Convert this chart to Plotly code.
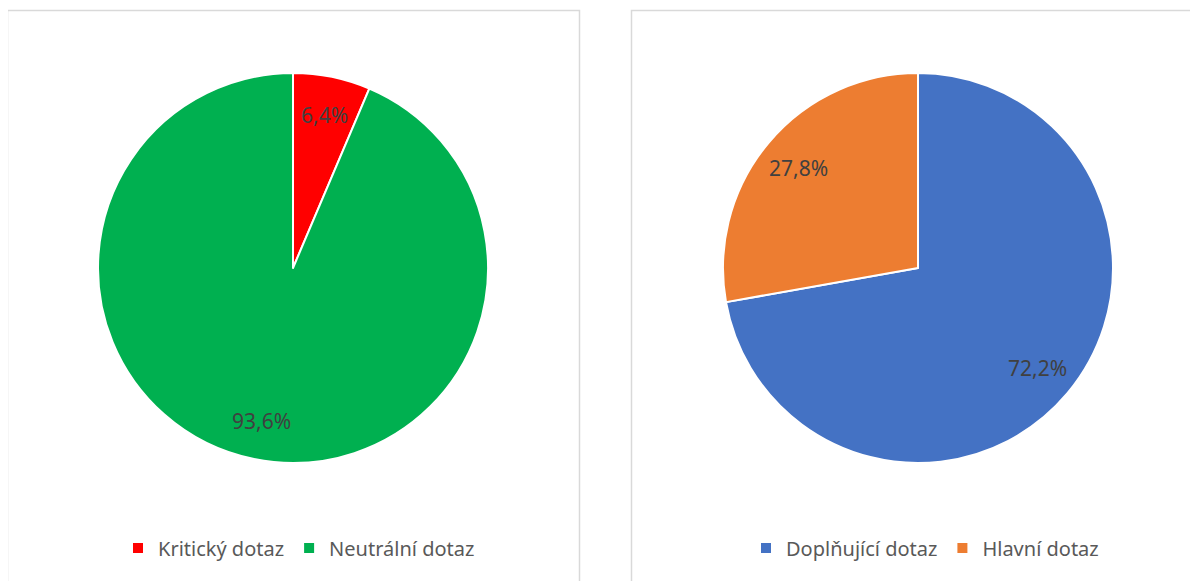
import math
import plotly.graph_objects as go

# page has an 8px body margin; figure fills the rest of the 1198x581 window
OFF = 8
W, H = 1198 - OFF, 581 - OFF

left_labels = ["Kritický dotaz", "Neutrální dotaz"]
left_values = [6.4, 93.6]
left_colors = ["#FF0000", "#00B050"]

right_labels = ["Doplňující dotaz", "Hlavní dotaz"]
right_values = [72.2, 27.8]
right_colors = ["#4472C4", "#ED7D31"]

FONT = "Noto Sans"


def px_x(v):
    return (v - OFF) / W


def px_y(v):
    return 1 - (v - OFF) / H


R = 195
CY = 268
LABEL_FRAC = 0.8

fig = go.Figure()
annotations = []


def add_pie(labels, values, colors, cx, legend):
    fig.add_trace(go.Pie(
        labels=labels, values=values, sort=False, direction="clockwise", rotation=0,
        marker=dict(colors=colors, line=dict(color="white", width=2)),
        textinfo="none",
        domain=dict(x=[px_x(cx - R), px_x(cx + R)], y=[px_y(CY + R), px_y(CY - R)]),
        legend=legend, hoverinfo="label+percent",
    ))
    total = sum(values)
    cum = 0.0
    for v in values:
        mid = (cum + v / 2) / total * 2 * math.pi
        cum += v
        lx = cx + LABEL_FRAC * R * math.sin(mid)
        ly = CY - LABEL_FRAC * R * math.cos(mid)
        annotations.append(dict(
            x=px_x(lx), y=px_y(ly), xref="paper", yref="paper",
            text=f"{v:.1f}%".replace(".", ","), showarrow=False,
            font=dict(family=FONT, size=21, color="#404040"),
            xanchor="center", yanchor="middle",
        ))


add_pie(left_labels, left_values, left_colors, 293, "legend")
add_pie(right_labels, right_values, right_colors, 918, "legend2")

legend_style = dict(orientation="h", xanchor="center", yanchor="middle",
                    font=dict(family=FONT, size=20, color="#595959"),
                    bgcolor="rgba(0,0,0,0)", itemclick=False)
fig.update_layout(
    width=W, height=H, margin=dict(l=0, r=0, t=0, b=0),
    paper_bgcolor="white", plot_bgcolor="white",
    legend=dict(x=px_x(299), y=px_y(548), **legend_style),
    legend2=dict(x=px_x(925), y=px_y(548), **legend_style),
    annotations=annotations,
    shapes=[
        dict(type="rect", xref="paper", yref="paper", x0=px_x(7.5), x1=px_x(579.5),
             y0=-0.05, y1=px_y(10.5), line=dict(color="#D9D9D9", width=1.5), layer="below"),
        dict(type="rect", xref="paper", yref="paper", x0=px_x(631.5), x1=px_x(1210),
             y0=-0.05, y1=px_y(10.5), line=dict(color="#D9D9D9", width=1.5), layer="below"),
    ],
)

fig.write_html("out.html")
